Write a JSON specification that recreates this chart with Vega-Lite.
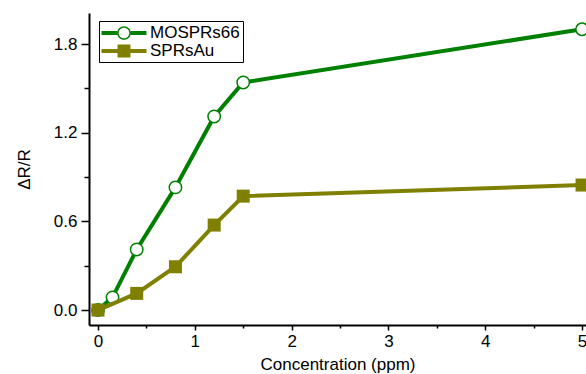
{
  "$schema": "https://vega.github.io/schema/vega-lite/v6.json",
  "width": 497,
  "height": 312,
  "autosize": {"type": "none"},
  "padding": {"left": 89, "top": 13, "right": 0, "bottom": 49},
  "background": "white",
  "config": {
    "view": {"stroke": null},
    "font": "Liberation Sans",
    "axis": {
      "grid": false,
      "domainColor": "black",
      "domainWidth": 2,
      "tickColor": "black",
      "tickWidth": 1.5,
      "labelFont": "Liberation Sans",
      "labelFontSize": 17,
      "labelFontWeight": "normal",
      "labelColor": "black",
      "titleFont": "Liberation Sans",
      "titleFontSize": 17,
      "titleFontWeight": "normal",
      "titleColor": "black",
      "labelOverlap": false
    }
  },
  "data": {
    "values": [
      {"series": "MOSPRs66", "conc": 0, "dr": 0},
      {"series": "MOSPRs66", "conc": 0.15, "dr": 0.086},
      {"series": "MOSPRs66", "conc": 0.4, "dr": 0.41},
      {"series": "MOSPRs66", "conc": 0.8, "dr": 0.83},
      {"series": "MOSPRs66", "conc": 1.2, "dr": 1.31},
      {"series": "MOSPRs66", "conc": 1.5, "dr": 1.54},
      {"series": "MOSPRs66", "conc": 5, "dr": 1.9},
      {"series": "SPRsAu", "conc": 0, "dr": 0},
      {"series": "SPRsAu", "conc": 0.4, "dr": 0.113},
      {"series": "SPRsAu", "conc": 0.8, "dr": 0.293},
      {"series": "SPRsAu", "conc": 1.2, "dr": 0.575},
      {"series": "SPRsAu", "conc": 1.5, "dr": 0.771},
      {"series": "SPRsAu", "conc": 5, "dr": 0.846}
    ]
  },
  "encoding": {
    "x": {
      "field": "conc",
      "type": "quantitative",
      "scale": {"domain": [-0.093, 5.041], "nice": false, "zero": false},
      "axis": null
    },
    "y": {
      "field": "dr",
      "type": "quantitative",
      "scale": {"domain": [-0.101, 2.01], "nice": false, "zero": false},
      "axis": null
    }
  },
  "resolve": {"axis": {"x": "independent", "y": "independent"}},
  "layer": [
    {
      "transform": [{"filter": "datum.series === 'MOSPRs66'"}],
      "mark": {"type": "line", "strokeWidth": 4, "color": "#008000", "clip": true},
      "encoding": {
        "x": {
          "field": "conc",
          "type": "quantitative",
          "scale": {"domain": [-0.093, 5.041], "nice": false, "zero": false},
          "axis": {
            "title": "Concentration (ppm)",
            "orient": "bottom",
            "values": [0, 1, 2, 3, 4, 5],
            "format": "d",
            "tickSize": 5,
            "labelPadding": 3,
            "titlePadding": 7
          }
        },
        "y": {
          "field": "dr",
          "type": "quantitative",
          "scale": {"domain": [-0.101, 2.01], "nice": false, "zero": false},
          "axis": {
            "title": "ΔR/R",
            "orient": "left",
            "values": [0, 0.6, 1.2, 1.8],
            "format": ".1f",
            "tickSize": 8,
            "labelPadding": 4,
            "titlePadding": 20
          }
        }
      }
    },
    {
      "transform": [{"filter": "datum.series === 'MOSPRs66'"}],
      "mark": {"type": "point", "shape": "circle", "filled": false, "fill": "white", "stroke": "#008000", "strokeWidth": 1.5, "size": 154, "opacity": 1, "clip": true}
    },
    {
      "transform": [{"filter": "datum.series === 'SPRsAu'"}],
      "mark": {"type": "line", "strokeWidth": 4, "color": "#808000", "clip": true}
    },
    {
      "transform": [{"filter": "datum.series === 'SPRsAu'"}],
      "mark": {"type": "point", "shape": "square", "filled": true, "color": "#808000", "size": 169, "opacity": 1, "clip": true}
    },
    {
      "mark": {"type": "point", "filled": true, "size": 0, "strokeWidth": 0, "opacity": 1},
      "encoding": {
        "x": {
          "field": "conc",
          "type": "quantitative",
          "scale": {"domain": [-0.093, 5.041], "nice": false, "zero": false},
          "axis": {"orient": "bottom", "values": [0.5, 1.5, 2.5, 3.5, 4.5], "labels": false, "domain": false, "tickSize": 3, "title": null}
        },
        "y": {
          "field": "dr",
          "type": "quantitative",
          "scale": {"domain": [-0.101, 2.01], "nice": false, "zero": false},
          "axis": {"orient": "left", "values": [0.3, 0.9, 1.5], "labels": false, "domain": false, "tickSize": 5, "title": null}
        },
        "color": {
          "field": "series",
          "type": "nominal",
          "scale": {"domain": ["MOSPRs66", "SPRsAu"], "range": ["#008000", "#808000"]},
          "legend": {
            "title": null,
            "orient": "none",
            "legendX": 10,
            "legendY": 8,
            "padding": 3,
            "strokeColor": "black",
            "fillColor": "white",
            "cornerRadius": 0,
            "labelFont": "Liberation Sans",
            "labelFontSize": 17,
            "labelColor": "black",
            "symbolSize": 324,
            "symbolStrokeWidth": 0,
            "symbolOpacity": 1,
            "rowPadding": 1,
            "symbolOffset": 13,
            "labelOffset": 17
          }
        },
        "shape": {
          "field": "series",
          "type": "nominal",
          "scale": {
            "domain": ["MOSPRs66", "SPRsAu"],
            "range": [
              "M-2.5,-0.22H-0.76V0.22H-2.5Z M0.76,-0.22H2.5V0.22H0.76Z M-0.76,0A0.76,0.76 0 1,0 0.76,0A0.76,0.76 0 1,0 -0.76,0Z M-0.59,0A0.59,0.59 0 1,1 0.59,0A0.59,0.59 0 1,1 -0.59,0Z",
              "M-2.5,-0.22H2.5V0.22H-2.5Z M-0.72,-0.72H0.72V0.72H-0.72Z"
            ]
          }
        }
      }
    }
  ]
}
